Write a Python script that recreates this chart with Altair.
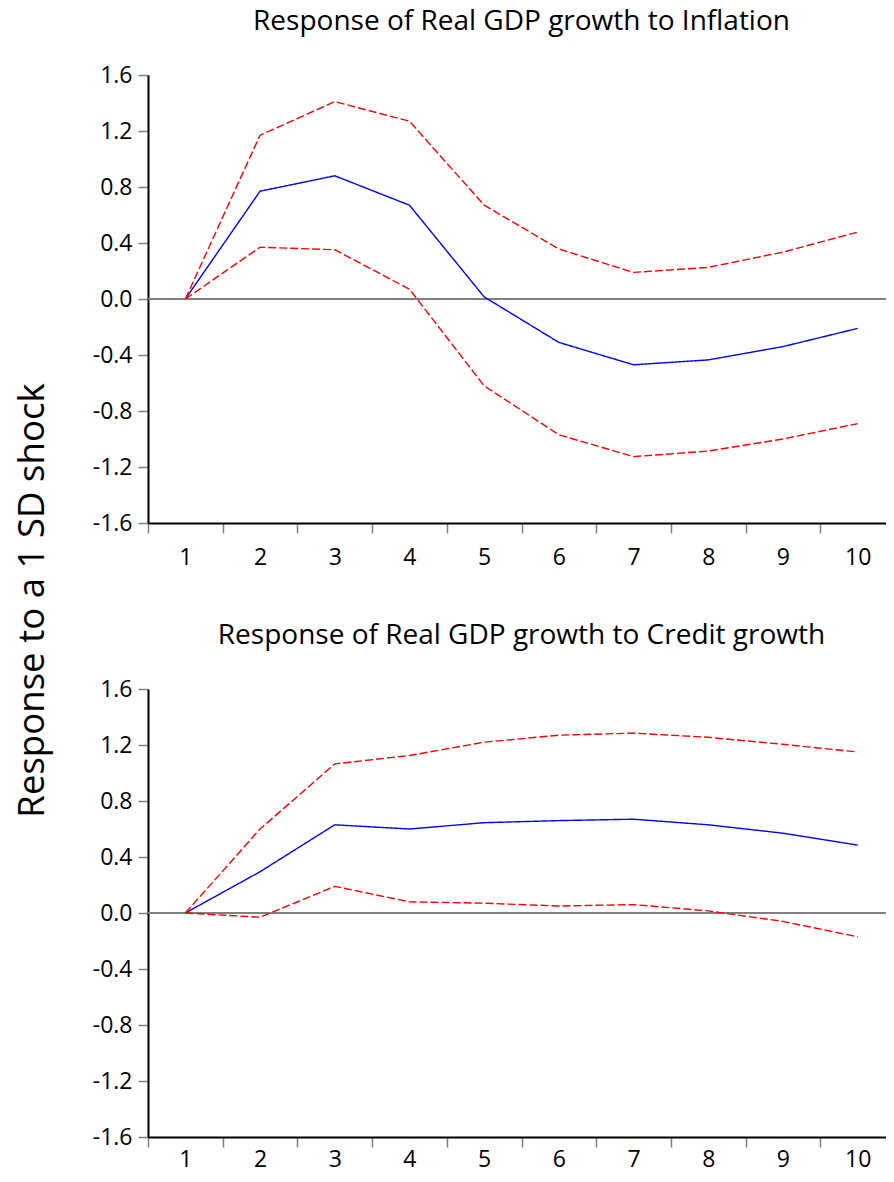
import altair as alt
import pandas as pd

periods = list(range(1, 11))
y_ticks = [-1.6, -1.2, -0.8, -0.4, 0.0, 0.4, 0.8, 1.2, 1.6]

inf_resp = [0.0, 0.77, 0.88, 0.67, 0.015, -0.31, -0.47, -0.435, -0.34, -0.21]
inf_upper = [0.0, 1.17, 1.41, 1.27, 0.67, 0.357, 0.19, 0.226, 0.335, 0.478]
inf_lower = [0.0, 0.37, 0.352, 0.07, -0.62, -0.97, -1.126, -1.086, -1.0, -0.89]

cr_resp = [0.0, 0.295, 0.63, 0.60, 0.645, 0.66, 0.67, 0.63, 0.57, 0.485]
cr_upper = [0.0, 0.60, 1.065, 1.125, 1.22, 1.27, 1.285, 1.255, 1.205, 1.15]
cr_lower = [0.0, -0.03, 0.19, 0.08, 0.07, 0.05, 0.06, 0.015, -0.06, -0.17]

titles = ["Response of Real GDP growth to Inflation",
          "Response of Real GDP growth to Credit growth"]
y_title = "Response to a 1 SD shock"

FONT = "Open Sans"
series_dom = ["resp", "upper", "lower"]


def panel(resp, upper, lower, title, xlabel_pad, title_offset):
    df = pd.DataFrame({
        "period": periods * 3,
        "value": resp + upper + lower,
        "series": ["resp"] * 10 + ["upper"] * 10 + ["lower"] * 10,
    })
    zero_df = pd.DataFrame({"value": [0.0]})
    label_expr = "datum.value < 0 ? '-' + format(-datum.value, '.1f') : format(datum.value, '.1f')"
    y = alt.Y("value:Q", scale=alt.Scale(domain=[-1.6, 1.6], nice=False, zero=False),
              axis=alt.Axis(values=y_ticks, labelExpr=label_expr, grid=False, title=""))
    x = alt.X("period:O", scale=alt.Scale(paddingInner=0, paddingOuter=0),
              axis=alt.Axis(title=None, tickBand="extent", labelAngle=0, grid=False,
                            labelPadding=xlabel_pad))
    zero = alt.Chart(zero_df).mark_rule(color="#808080", strokeWidth=2).encode(y=y)
    lines = alt.Chart(df).mark_line(strokeWidth=1.4).encode(
        x=x, y=y,
        color=alt.Color("series:N", scale=alt.Scale(domain=series_dom,
                        range=["#0000ff", "#ff0000", "#ff0000"]), legend=None),
        strokeDash=alt.StrokeDash("series:N", scale=alt.Scale(domain=series_dom,
                                  range=[[1, 0], [8, 3], [8, 3]]), legend=None),
    )
    return alt.layer(zero, lines).properties(
        width=747, height=448,
        title=alt.TitleParams(title, font=FONT, fontSize=28, fontWeight="normal",
                              color="black", anchor="middle", offset=title_offset),
    )


top = panel(inf_resp, inf_upper, inf_lower, titles[0], 13, 28)
bottom = panel(cr_resp, cr_upper, cr_lower, titles[1], 1, 28)

chart = alt.vconcat(top, bottom, spacing=166, bounds="flush").properties(
    padding={"left": 6, "top": 0, "right": -10, "bottom": 0},
    title=alt.TitleParams(y_title, orient="left", anchor="middle", font=FONT,
                          fontSize=36.6, fontWeight="normal", color="black",
                          offset=41, dx=-11),
).configure_view(strokeWidth=0).configure_axis(
    labelFont=FONT, labelFontSize=23, labelColor="black",
    domainColor="black", domainWidth=2,
    tickColor="#808080", tickWidth=1.5, tickSize=10, labelPadding=6,
).configure_scale(bandPaddingInner=0)

chart.save("out.html", embed_options={"renderer": "svg", "actions": False})
